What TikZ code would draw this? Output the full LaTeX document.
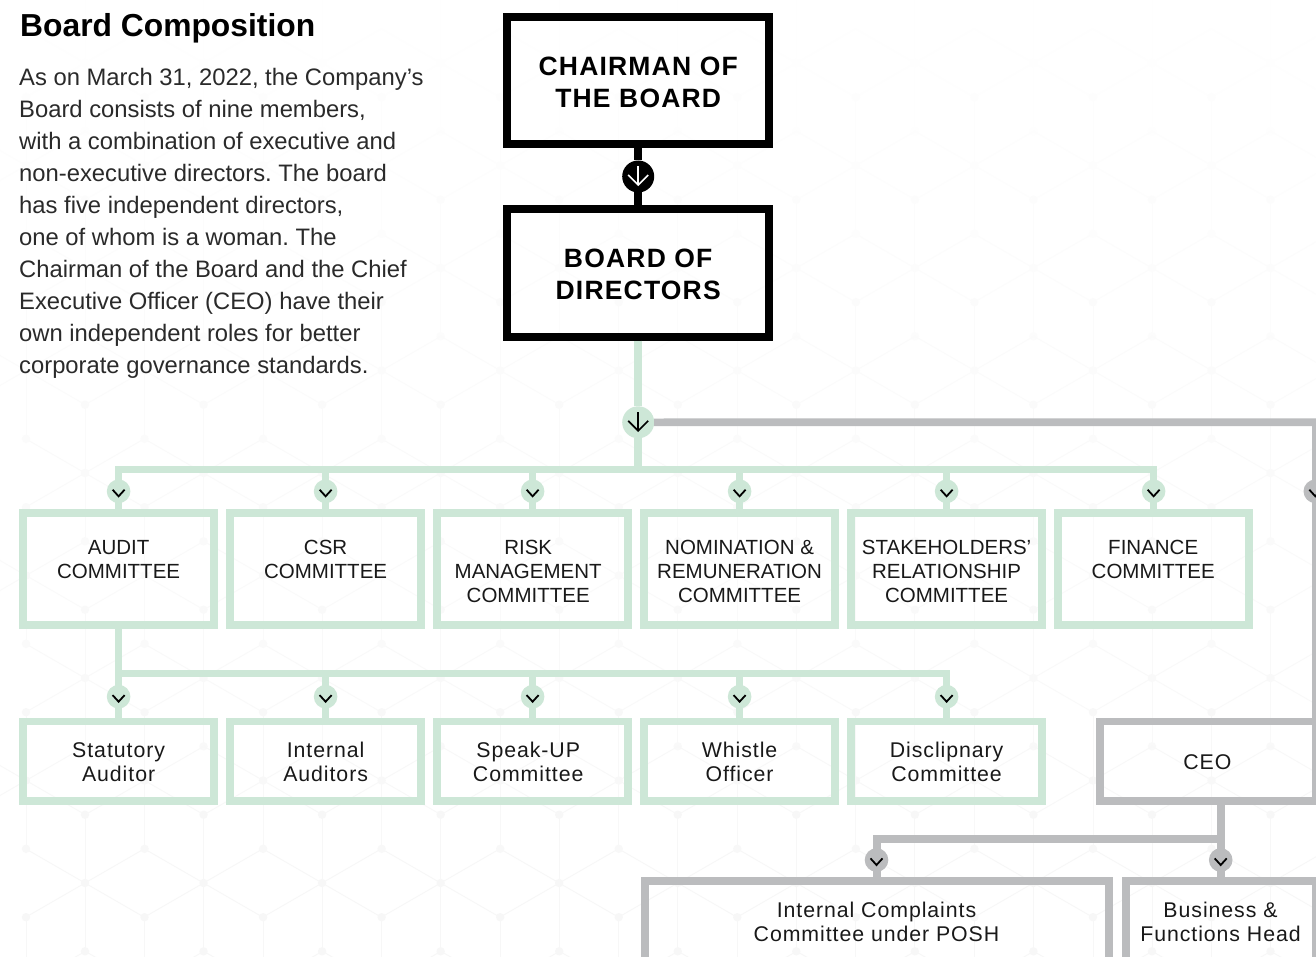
\documentclass[tikz,border=0pt]{standalone}
\usepackage{fontspec}
\setmainfont{Liberation Sans}
\newfontfamily\boxbold[LetterSpace=4.5]{Liberation Sans Bold}
\newfontfamily\boxmixed[LetterSpace=4.4]{Liberation Sans}
\definecolor{mint}{HTML}{CDE7D7}
\definecolor{steel}{HTML}{BBBCBE}
\definecolor{bodyink}{HTML}{2A2A2A}
\tikzset{
  x=1pt,y=-1pt,
  anybox/.style={draw,rectangle,fill=none,inner sep=0pt,outer sep=0pt,line join=miter},
  blackbox/.style={anybox,draw=black,line width=8pt,minimum width=261.7pt,minimum height=127.8pt},
  greenbox/.style={anybox,draw=mint,line width=7.7pt,minimum width=191pt},
  tallbox/.style={greenbox,minimum height=112pt},
  lowbox/.style={greenbox,minimum height=79.7pt},
  greybox/.style={anybox,draw=steel,line width=7.7pt},
  blackline/.style={draw=black,line width=7.6pt},
  greenline/.style={draw=mint,line width=7.6pt,line join=miter},
  greyline/.style={draw=steel,line width=7.6pt,line join=miter},
  bigdot/.style={circle,inner sep=0pt,outer sep=0pt,minimum size=32pt},
  smalldot/.style={circle,inner sep=0pt,outer sep=0pt,minimum size=23.6pt},
  chevline/.style={draw=black,line width=1.8pt},
  arrowline/.style={line width=1.7pt},
  uppertext/.style={align=center,inner sep=0pt,font=\fontsize{20.5}{24}\selectfont,text=black!90},
  lowertext/.style={align=center,inner sep=0pt,font=\fontsize{21.3}{24}\boxmixed\selectfont,text=black!90},
  boldtext/.style={align=center,inner sep=0pt,font=\fontsize{26.5}{32}\boxbold\selectfont,text=black}
}
\newcommand{\chevin}[1]{\draw[chevline] ([shift={(-6,-1.6)}]#1.center) -- ([shift={(0,5)}]#1.center) -- ([shift={(6,-1.6)}]#1.center);}
\begin{document}
\begin{tikzpicture}
\frenchspacing
\path[use as bounding box,fill=white] (0,0) rectangle (1316,957);
\clip (0,0) rectangle (1316,957);
% faint hexagonal background
\foreach \jy/\jx in {63/85,268/85,473/85,678/85,883/85,165.5/26,370.5/26,575.5/26,780.5/26,985.5/26}{
  \pgfmathsetmacro{\shade}{0.4+2.6*min(\jy,880)/880}
  \foreach \k in {0,...,11}{
    \pgfmathsetmacro{\cx}{\jx+118.55*\k}
    \begin{scope}[draw=black!\shade,fill=black!\shade,line width=0.9pt]
      \draw (\cx,\jy-68.3) -- (\cx,\jy+68.3);
      \draw (\cx-59.27,\jy-34.2) -- (\cx,\jy) -- (\cx+59.27,\jy+34.2);
      \draw (\cx-59.27,\jy+34.2) -- (\cx,\jy) -- (\cx+59.27,\jy-34.2);
      \fill (\cx,\jy) circle (4.2);
      \fill (\cx,\jy-68.3) circle (4.2);
      \fill (\cx,\jy+68.3) circle (4.2);
    \end{scope}
  }
}
% intro text
\node[anchor=west,inner sep=0pt,font=\fontsize{31.8}{36}\bfseries\selectfont] (title) at (20,28) {Board Composition};
\node[anchor=north west,align=left,inner sep=0pt,text=bodyink,font=\fontsize{23.8}{32}\selectfont] (intro) at (19,68) {As on March 31, 2022, the Company’s\\Board consists of nine members,\\with a combination of executive and\\non-executive directors. The board\\has five independent directors,\\one of whom is a woman. The\\Chairman of the Board and the Chief\\Executive Officer (CEO) have their\\own independent roles for better\\corporate governance standards.};
% boxes
\node[blackbox] (chair) at (638.2,80.5) {};
\node[blackbox,minimum height=128pt] (board) at (638.2,272.7) {};
\node[tallbox] (audit) at (118.6,569.2) {};
\node[tallbox] (csr) at (325.6,569.2) {};
\node[tallbox] (risk) at (532.6,569.2) {};
\node[tallbox] (nom) at (739.6,569.2) {};
\node[tallbox] (stake) at (946.6,569.2) {};
\node[tallbox] (fin) at (1153.6,569.2) {};
\node[lowbox] (stat) at (118.6,761.2) {};
\node[lowbox] (inta) at (325.6,761.2) {};
\node[lowbox] (speak) at (532.6,761.2) {};
\node[lowbox] (whis) at (739.6,761.2) {};
\node[lowbox] (disc) at (946.6,761.2) {};
\node[greybox,minimum width=216.2pt,minimum height=79.7pt] (ceo) at (1207.9,761.2) {};
\node[greybox,minimum width=463.8pt,minimum height=90pt] (posh) at (876.8,926) {};
\node[greybox,minimum width=190.3pt,minimum height=90pt] (biz) at (1220.85,926) {};
% box texts
\node[boldtext] (chairT) at (638.2,82) {CHAIRMAN OF\\THE BOARD};
\node[boldtext] (boardT) at (638.2,274) {BOARD OF\\DIRECTORS};
\node[uppertext] (auditT) at (118.6,559.6) {AUDIT\\COMMITTEE};
\node[uppertext] (csrT) at (325.6,559.6) {CSR\\COMMITTEE};
\node[uppertext] (riskT) at (528.2,571) {RISK\\MANAGEMENT\\COMMITTEE};
\node[uppertext] (nomT) at (739.6,571) {NOMINATION \&\\REMUNERATION\\COMMITTEE};
\node[uppertext] (stakeT) at (946.6,571) {STAKEHOLDERS’\\RELATIONSHIP\\COMMITTEE};
\node[uppertext] (finT) at (1153.2,559.6) {FINANCE\\COMMITTEE};
\node[lowertext] (statT) at (118.6,762) {Statutory\\Auditor};
\node[lowertext] (intaT) at (325.6,762) {Internal\\Auditors};
\node[lowertext] (speakT) at (528.2,762) {Speak-UP\\Committee};
\node[lowertext] (whisT) at (739.6,762) {Whistle\\Officer};
\node[lowertext] (discT) at (946.6,762) {Disclipnary\\Committee};
\node[lowertext] (ceoT) at (1207.3,762) {CEO};
\node[lowertext] (poshT) at (876.5,922) {Internal Complaints\\Committee under POSH};
\node[lowertext] (bizT) at (1220.5,922) {Business \&\\Functions Head};
% hubs
\node[bigdot,fill=black] (hubBlack) at (638.2,176.5) {};
\node[bigdot,fill=mint] (hubGreen) at (638.2,422.3) {};
\coordinate (busTopL) at (118.6,469.5);
\coordinate (busTopR) at (1153.6,469.5);
\coordinate (busLowL) at (118.6,673.3);
\coordinate (busLowR) at (946.6,673.3);
\coordinate (busCeo) at (1220.7,839);
\coordinate (greyCorner) at (1316,422.2);
% connectors
\draw[blackline] (chair.south) -- (hubBlack);
\draw[blackline] (hubBlack) -- (board.north);
\draw[greenline] ([yshift=-4pt]board.south) -- (hubGreen);
\draw[greenline] (hubGreen) -- (hubGreen |- busTopL);
\draw[greenline] (audit.north) -- (busTopL) -- (busTopR) -- (fin.north);
\foreach \n in {csr,risk,nom,stake}{\draw[greenline] (\n.north |- busTopL) -- (\n.north);}
\draw[greenline] (audit.south) -- (stat.north);
\draw[greenline] (busLowL) -- (busLowR) -- (disc.north);
\foreach \n in {inta,speak,whis}{\draw[greenline] (\n.north |- busLowL) -- (\n.north);}
\draw[greyline] (hubGreen.east) -- (greyCorner) -- (ceo.north east);
\draw[greyline] (ceo.south -| busCeo) -- (biz.north -| busCeo);
\draw[greyline] (busCeo) -- (posh.north |- busCeo) -- (posh.north);
% hub arrows
\draw[arrowline,draw=white] (hubBlack.center)++(0,-10) -- ++(0,18.5);
\draw[arrowline,draw=white] (hubBlack.center)++(-10,-1.5) -- ++(10,10) -- ++(10,-10);
\draw[arrowline,draw=black] (hubGreen.center)++(0,-10) -- ++(0,18.5);
\draw[arrowline,draw=black] (hubGreen.center)++(-10,-1.5) -- ++(10,10) -- ++(10,-10);
% chevrons
\foreach \n/\cx in {a/118.6,b/325.6,c/532.6,d/739.6,e/946.6,f/1153.6}{
  \node[smalldot,fill=mint] (top\n) at (\cx,491.3) {};
  \chevin{top\n}
}
\foreach \n/\cx in {a/118.6,b/325.6,c/532.6,d/739.6,e/946.6}{
  \node[smalldot,fill=mint] (low\n) at (\cx,696.7) {};
  \chevin{low\n}
}
\node[smalldot,fill=steel] (greyA) at (1315.3,491.3) {};
\chevin{greyA}
\node[smalldot,fill=steel] (greyB) at (876.5,860) {};
\chevin{greyB}
\node[smalldot,fill=steel] (greyC) at (1220.7,860) {};
\chevin{greyC}
\end{tikzpicture}
\end{document}
